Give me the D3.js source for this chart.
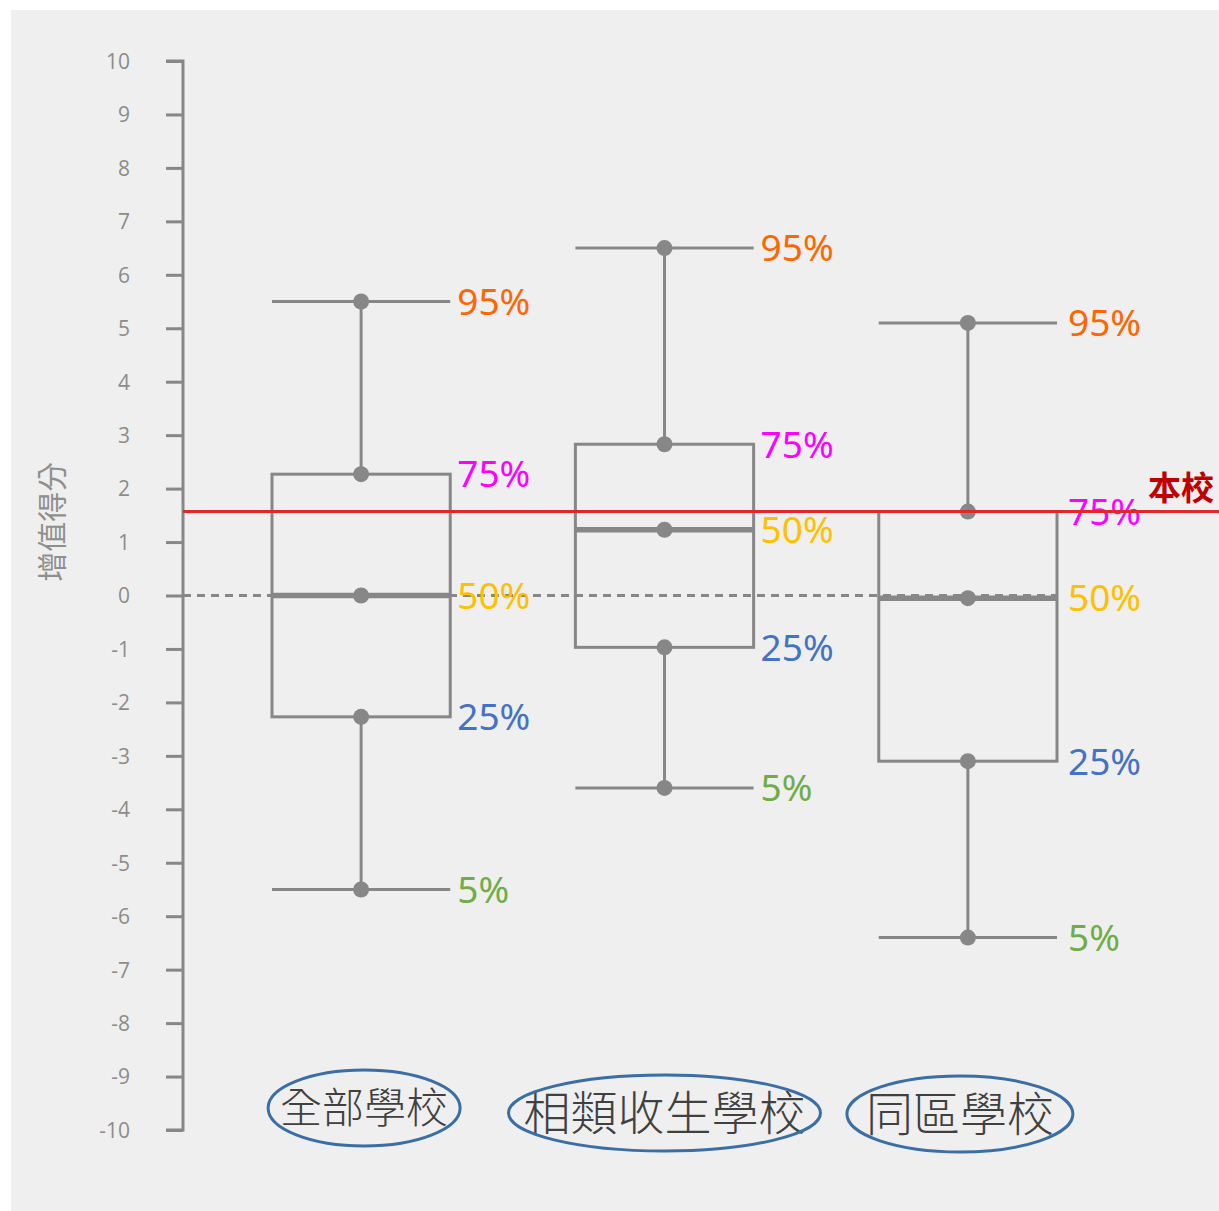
<!DOCTYPE html>
<html>
<head>
<meta charset="utf-8">
<script src="https://cdn.jsdelivr.net/npm/d3@7"></script>
<style>
  html, body { margin: 0; padding: 0; background: #ffffff; }
  svg { display: block; }
</style>
</head>
<body>
<div id="chart"></div>
<script>
// data
const categories = ['全部學校', '相類收生學校', '同區學校'];
const p5  = [-5.5, -3.6, -6.4];
const p25 = [-2.27, -0.97, -3.1];
const p50 = [0, 1.23, -0.05];
const p75 = [2.27, 2.83, 1.57];
const p95 = [5.5, 6.5, 5.1];
const schoolValue = 1.57;
const yTicks = d3.range(-10, 11);
const pctLabels = ['5%', '25%', '50%', '75%', '95%'];
const pctColors = ['#70ad47', '#4472c4', '#ffc000', '#ff00ff', '#ff6600'];

// label styling (hand placed in the original)
const catFontSize = [42, 47, 47];
const catEllipse = [
  { dx: 3, cy: 1108, rx: 96 },
  { dx: 0, cy: 1113, rx: 156 },
  { dx: -8, cy: 1114, rx: 113 }
];

const W = 1219, H = 1211;
const svg = d3.select('#chart').append('svg')
  .attr('width', W)
  .attr('height', H);

svg.append('rect')
  .attr('x', 11).attr('y', 10)
  .attr('width', W - 11).attr('height', H - 10)
  .attr('fill', '#efefef');

const y = d3.scaleLinear().domain([-10, 10]).range([1130, 61]);
const x = d3.scaleBand().domain(categories).range([272, 1057]).paddingInner(0.4125).paddingOuter(0);
const axisX = 183;
const grey = '#878787';
const mid = d => x(d) + x.bandwidth() / 2;

// y axis
const yAxis = d3.axisLeft(y).tickValues(yTicks).tickSize(17).tickFormat(d => String(d));
const gAxis = svg.append('g')
  .attr('transform', `translate(${axisX},0)`)
  .call(yAxis);
gAxis.select('.domain')
  .attr('stroke', grey).attr('stroke-width', 3)
  .attr('d', `M-17,${y(10)}H0V${y(-10)}H-17`);
gAxis.selectAll('.tick line').attr('stroke', grey).attr('stroke-width', 3);
gAxis.selectAll('.tick text')
  .attr('fill', '#8c8c8c')
  .attr('font-family', 'Open Sans, Liberation Sans, sans-serif')
  .attr('font-size', 21)
  .attr('dy', '0.35em')
  .attr('x', -53)
  .attr('text-anchor', 'end');

svg.append('text')
  .attr('transform', `translate(52,${y(1.38)}) rotate(-90)`)
  .attr('text-anchor', 'middle')
  .attr('dy', '0.35em')
  .attr('fill', '#8f8f8f')
  .attr('font-family', 'Noto Sans CJK TC, sans-serif')
  .attr('font-size', 30)
  .text('增值得分');

// zero dotted line
svg.append('line')
  .attr('x1', axisX).attr('x2', x(categories[2]) + x.bandwidth())
  .attr('y1', y(0)).attr('y2', y(0))
  .attr('stroke', grey).attr('stroke-width', 3)
  .attr('stroke-dasharray', '8,6');

const data = categories.map((c, i) => ({
  c, p5: p5[i], p25: p25[i], p50: p50[i], p75: p75[i], p95: p95[i]
}));

const g = svg.append('g').selectAll('g').data(data).enter().append('g');

// whiskers (outside the box only)
[['p95', 'p75'], ['p25', 'p5']].forEach(([a, b]) => {
  g.append('line')
    .attr('x1', d => mid(d.c)).attr('x2', d => mid(d.c))
    .attr('y1', d => y(d[a])).attr('y2', d => y(d[b]))
    .attr('stroke', grey).attr('stroke-width', 3);
});

// box
g.append('rect')
  .attr('x', d => x(d.c))
  .attr('width', x.bandwidth())
  .attr('y', d => y(d.p75))
  .attr('height', d => y(d.p25) - y(d.p75))
  .attr('fill', 'none')
  .attr('stroke', grey).attr('stroke-width', 3);

// caps
['p5', 'p95'].forEach(k => {
  g.append('line')
    .attr('x1', d => x(d.c)).attr('x2', d => x(d.c) + x.bandwidth())
    .attr('y1', d => y(d[k])).attr('y2', d => y(d[k]))
    .attr('stroke', grey).attr('stroke-width', 3);
});

// median
g.append('line')
  .attr('x1', d => x(d.c)).attr('x2', d => x(d.c) + x.bandwidth())
  .attr('y1', d => y(d.p50)).attr('y2', d => y(d.p50))
  .attr('stroke', grey).attr('stroke-width', 5.5);

// dots
['p5', 'p25', 'p50', 'p75', 'p95'].forEach(k => {
  g.append('circle')
    .attr('cx', d => mid(d.c))
    .attr('cy', d => y(d[k]))
    .attr('r', 8)
    .attr('fill', grey);
});

// school line
svg.append('line')
  .attr('x1', axisX).attr('x2', W)
  .attr('y1', y(schoolValue)).attr('y2', y(schoolValue))
  .attr('stroke', '#e0282c').attr('stroke-width', 3);

svg.append('text')
  .attr('x', 1148).attr('y', y(schoolValue) - 12)
  .attr('fill', '#c00000')
  .attr('font-family', 'Noto Sans CJK TC, sans-serif')
  .attr('font-size', 33)
  .attr('font-weight', 'bold')
  .text('本校');

// percent labels
['p5', 'p25', 'p50', 'p75', 'p95'].forEach((k, j) => {
  g.append('text')
    .attr('x', (d, i) => x(d.c) + x.bandwidth() + (i === 2 ? 11 : 7))
    .attr('y', d => y(d[k]))
    .attr('dy', '0.36em')
    .attr('fill', pctColors[j])
    .attr('font-family', 'Noto Sans, Open Sans, sans-serif')
    .attr('font-size', 37)
    .text(pctLabels[j]);
});

// category labels with ellipses
const cat = svg.append('g').selectAll('g').data(categories).enter().append('g')
  .attr('transform', (d, i) => `translate(${mid(d) + catEllipse[i].dx},${catEllipse[i].cy})`);

cat.append('text')
  .attr('text-anchor', 'middle')
  .attr('dy', '0.36em')
  .attr('fill', '#404040')
  .attr('font-family', 'Noto Sans CJK TC, sans-serif')
  .attr('font-size', (d, i) => catFontSize[i])
  .attr('font-weight', 300)
  .text(d => d);

cat.append('ellipse')
  .attr('rx', (d, i) => catEllipse[i].rx)
  .attr('ry', 38)
  .attr('fill', 'none')
  .attr('stroke', '#3a6ea5')
  .attr('stroke-width', 3);
</script>
</body>
</html>
